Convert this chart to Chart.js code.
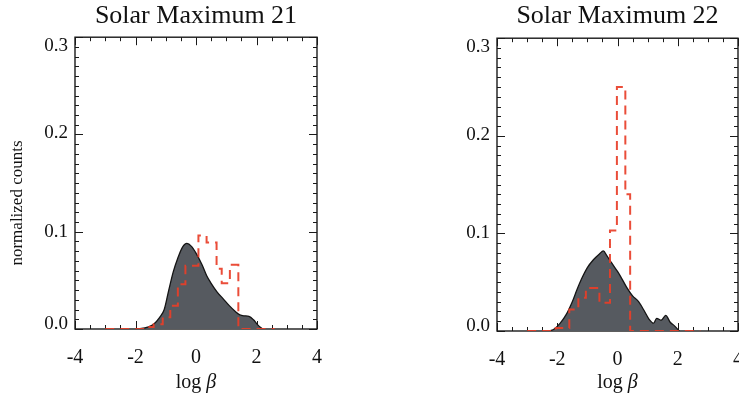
<!DOCTYPE html>
<html>
<head>
<meta charset="utf-8">
<title>Solar Maximum 21 / 22</title>
<script src="https://cdn.jsdelivr.net/npm/chart.js@4.4.1/dist/chart.umd.min.js"></script>
<style>
    html, body { margin: 0; padding: 0; background: #fff; width: 739px; height: 400px; overflow: hidden; }
    canvas { position: absolute; top: 0; }
    #chartMax21 { left: 0; }
    #chartMax22 { left: 370px; }
</style>
</head>
<body>
<canvas id="chartMax21" width="369" height="400"></canvas>
<canvas id="chartMax22" width="400" height="400"></canvas>
<script>
// ========================================
// LOG BETA DISTRIBUTIONS - SOLAR MAXIMUM 21 / 22
// ========================================

const SERIF = "'Liberation Serif', 'Times New Roman', serif";

// Tick labels
const betaTicks = [-4, -2, 0, 2, 4];
const countTicks = [0.0, 0.1, 0.2, 0.3];
// small nudge of the y labels (value units), like in the printed figure
const countLabelShift = [0.005, 0, 0.001, -0.009];

// Solar Maximum 21 - gray filled distribution
const max21CurveX = [-2.0, -1.8, -1.6, -1.4, -1.2, -1.05, -0.9, -0.75, -0.6, -0.45, -0.3, -0.15, 0.0, 0.2, 0.35, 0.5, 0.7, 0.9, 1.1, 1.3, 1.45, 1.6, 1.75, 1.9, 2.05, 2.2];
const max21CurveY = [0, 0.0005, 0.002, 0.005, 0.012, 0.02, 0.04, 0.059, 0.073, 0.084, 0.088, 0.085, 0.078, 0.066, 0.055, 0.047, 0.038, 0.031, 0.024, 0.018, 0.0145, 0.0135, 0.013, 0.0095, 0.004, 0];

// Solar Maximum 21 - red dashed histogram (bin edges, bin heights)
const max21HistEdges = [-3.0, -1.7, -1.4, -1.1, -0.85, -0.6, -0.35, 0.08, 0.35, 0.68, 0.85, 1.12, 1.4, 2.6];
const max21HistCounts = [0, 0.002, 0.005, 0.012, 0.024, 0.046, 0.065, 0.096, 0.089, 0.062, 0.047, 0.066, 0];

// Solar Maximum 22 - gray filled distribution
const max22CurveX = [-2.25, -2.1, -1.9, -1.7, -1.5, -1.35, -1.2, -1.0, -0.8, -0.6, -0.47, -0.35, -0.2, 0.0, 0.1, 0.3, 0.5, 0.7, 0.9, 1.05, 1.2, 1.3, 1.45, 1.6, 1.75, 1.9, 2.05];
const max22CurveY = [0, 0.002, 0.008, 0.017, 0.03, 0.042, 0.053, 0.065, 0.073, 0.079, 0.082, 0.077, 0.07, 0.061, 0.056, 0.045, 0.036, 0.03, 0.02, 0.012, 0.008, 0.013, 0.011, 0.016, 0.009, 0.005, 0];

// Solar Maximum 22 - red dashed histogram (bin edges, bin heights)
const max22HistEdges = [-3.0, -2.05, -1.6, -1.3, -1.05, -0.6, -0.25, -0.02, 0.26, 0.42, 2.75];
const max22HistCounts = [0, 0.003, 0.022, 0.034, 0.044, 0.029, 0.103, 0.25, 0.14, 0];

let charts = [];

// Build {x, y} points for the smooth curve
function curvePoints(xs, ys) {
    return xs.map((x, i) => ({ x: x, y: ys[i] }));
}

// Build step points for the histogram (each height spans edge[i]..edge[i+1])
function histPoints(edges, counts) {
    const pts = counts.map((c, i) => ({ x: edges[i], y: c }));
    pts.push({ x: edges[edges.length - 1], y: counts[counts.length - 1] });
    return pts;
}

// Frame box with inward ticks + axis titles
const frameTicks = {
    id: 'frameTicks',
    beforeDatasetsDraw(chart) {
        const { ctx, chartArea: a, scales: { x, y } } = chart;
        ctx.save();
        ctx.strokeStyle = '#1a1a1a';
        ctx.lineWidth = 1;
        ctx.beginPath();
        // x ticks every 0.5, major every 2
        for (let i = 0; i <= 16; i++) {
            const v = x.min + i * 0.5;
            const px = Math.round(x.getPixelForValue(v)) + 0.5;
            const len = i % 4 === 0 ? 8 : 4;
            ctx.moveTo(px, a.bottom); ctx.lineTo(px, a.bottom - len);
            ctx.moveTo(px, a.top); ctx.lineTo(px, a.top + len);
        }
        // y ticks every 0.01, major every 0.1
        for (let i = 0; i <= 30; i++) {
            const v = i * 0.01;
            const py = Math.round(y.getPixelForValue(v)) + 0.5;
            const len = i % 10 === 0 ? 8 : 4;
            ctx.moveTo(a.left, py); ctx.lineTo(a.left + len, py);
            ctx.moveTo(a.right, py); ctx.lineTo(a.right - len, py);
        }
        ctx.stroke();
        ctx.lineWidth = 1.4;
        ctx.strokeRect(a.left, a.top, a.right - a.left, a.bottom - a.top);
        ctx.restore();
    },
    afterDraw(chart, args, opts) {
        const { ctx, chartArea: a } = chart;
        ctx.save();
        ctx.fillStyle = '#111';
        ctx.textBaseline = 'alphabetic';

        // x title: "log β" with italic beta
        const normalFont = '20px ' + SERIF;
        const italicFont = 'italic 20px ' + SERIF;
        ctx.font = normalFont;
        const w1 = ctx.measureText('log ').width;
        ctx.font = italicFont;
        const w2 = ctx.measureText('β').width;
        let sx = (a.left + a.right) / 2 - (w1 + w2) / 2;
        ctx.font = normalFont;
        ctx.fillText('log ', sx, opts.xTitleY);
        ctx.font = italicFont;
        ctx.fillText('β', sx + w1, opts.xTitleY);

        // y title (left panel only)
        if (opts.yTitle) {
            ctx.translate(opts.yTitleX, opts.yTitleY);
            ctx.rotate(-Math.PI / 2);
            ctx.font = '17px ' + SERIF;
            ctx.textAlign = 'center';
            ctx.textBaseline = 'middle';
            ctx.fillText(opts.yTitle, 0, 0);
        }
        ctx.restore();
    }
};

function initPanel(canvasId, title, curveX, curveY, edges, counts, layout) {
    const ctx = document.getElementById(canvasId);
    return new Chart(ctx, {
        type: 'line',
        data: {
            datasets: [{
                // red dashed histogram, on top
                data: histPoints(edges, counts),
                stepped: 'before',
                borderColor: 'rgba(232, 62, 40, 0.92)',
                borderWidth: 2,
                borderDash: [9, 6],
                pointRadius: 0,
                fill: false,
                order: 0
            }, {
                // gray filled curve
                data: curvePoints(curveX, curveY),
                borderColor: '#151515',
                borderWidth: 1.3,
                backgroundColor: '#565a60',
                fill: 'origin',
                cubicInterpolationMode: 'monotone',
                pointRadius: 0,
                order: 1
            }]
        },
        options: {
            responsive: false,
            animation: false,
            events: [],
            layout: { padding: { top: 0, left: 0, bottom: 0, right: layout.padRight } },
            plugins: {
                legend: { display: false },
                tooltip: { enabled: false },
                title: {
                    display: true,
                    text: title,
                    fullSize: false,
                    color: '#111',
                    font: { family: SERIF, size: 26, weight: 'normal' },
                    padding: { top: 1, bottom: layout.titleGap }
                },
                frameTicks: {
                    xTitleY: 388,
                    yTitle: layout.yTitle,
                    yTitleX: 18,
                    yTitleY: 203
                }
            },
            scales: {
                x: {
                    type: 'linear',
                    min: -4,
                    max: 4,
                    afterBuildTicks: s => { s.ticks = betaTicks.map(v => ({ value: v })); },
                    afterFit: s => { s.height = layout.xHeight; },
                    grid: { display: false, drawTicks: false },
                    border: { display: false },
                    ticks: {
                        color: '#111',
                        padding: 17,
                        maxRotation: 0,
                        font: { family: SERIF, size: 20 }
                    }
                },
                y: {
                    min: 0,
                    max: 0.3,
                    afterBuildTicks: s => {
                        s.ticks = countTicks.map((v, i) => ({ value: v + countLabelShift[i], label: v.toFixed(1) }));
                    },
                    afterFit: s => { s.width = layout.yWidth; },
                    grid: { display: false, drawTicks: false },
                    border: { display: false },
                    ticks: {
                        color: '#111',
                        padding: 7,
                        font: { family: SERIF, size: 19 },
                        callback: (v, i) => countTicks[i].toFixed(1)
                    }
                }
            }
        },
        plugins: [frameTicks]
    });
}

document.addEventListener('DOMContentLoaded', function () {
    if (typeof Chart === 'undefined') {
        console.error('Chart.js not loaded');
        return;
    }
    charts.push(initPanel('chartMax21', 'Solar Maximum 21', max21CurveX, max21CurveY, max21HistEdges, max21HistCounts,
        { padRight: 52, yWidth: 75, xHeight: 71, titleGap: 5, yTitle: 'normalized counts' }));
    charts.push(initPanel('chartMax22', 'Solar Maximum 22', max22CurveX, max22CurveY, max22HistEdges, max22HistCounts,
        { padRight: 32, yWidth: 127, xHeight: 69, titleGap: 6, yTitle: null }));
});
</script>
</body>
</html>
